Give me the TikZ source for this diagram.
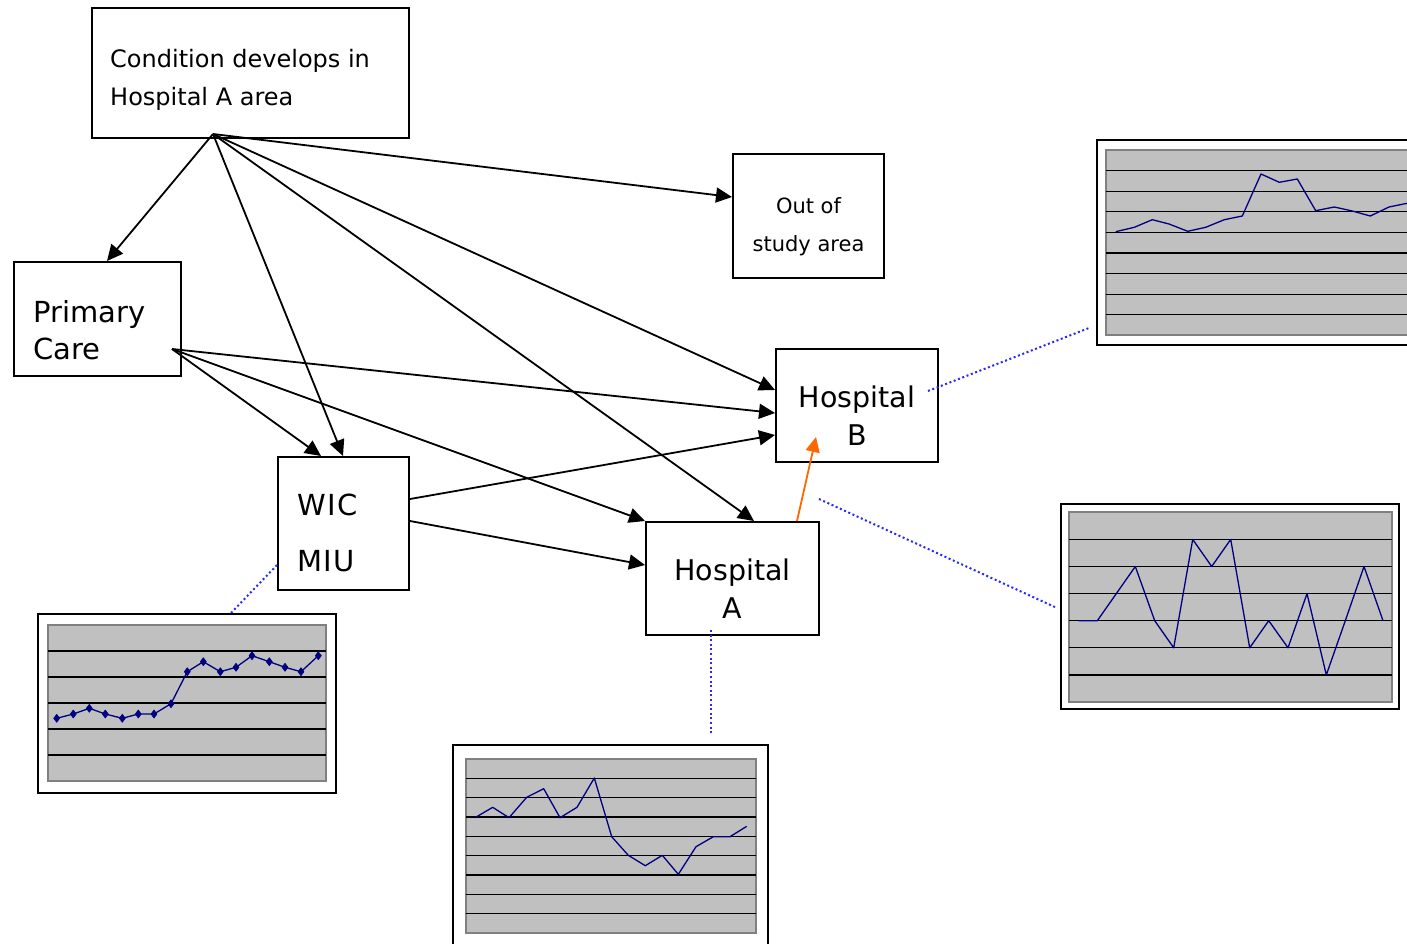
\documentclass[tikz,border=0pt]{standalone}
\usepackage{fontspec}
\setmainfont{DejaVu Sans}
\usetikzlibrary{arrows.meta,calc,plotmarks}
\definecolor{plotgray}{RGB}{192,192,192}
\definecolor{plotedge}{RGB}{128,128,128}
\definecolor{navy}{RGB}{0,0,128}
\definecolor{flow}{RGB}{255,102,0}
\definecolor{leader}{RGB}{40,40,255}

\begin{document}
\begin{tikzpicture}[x=1pt,y=-1pt,
  box/.style={draw=black,line width=2pt,rectangle,inner sep=0pt},
  txt/.style={inner sep=0pt,align=#1},
  arr/.style={-{Triangle[length=16pt,width=15pt]},line width=1.8pt,black},
  transfer/.style={-{Triangle[length=15pt,width=14pt]},line width=1.8pt,flow},
  lead/.style={leader,line width=2pt,dash pattern=on 2pt off 2.6pt},
  frame/.style={draw=black,line width=2pt,fill=white},
  plotarea/.style={draw=plotedge,line width=2pt,fill=plotgray},
  gridline/.style={black,line width=1.2pt},
  series/.style={navy,line width=1.3pt,line join=round}]
\clip (0,0) rectangle (1407,944);

% ---------- boxes ----------
\node[box,minimum width=317pt,minimum height=130pt] (cond) at (250.5,73) {};
\node[box,minimum width=151pt,minimum height=124pt] (out) at (808.5,216) {};
\node[box,minimum width=167pt,minimum height=114pt] (pc) at (97.5,319) {};
\node[box,minimum width=162pt,minimum height=113pt] (hb) at (857,405.5) {};
\node[box,minimum width=131pt,minimum height=133pt] (wic) at (343.5,523.5) {};
\node[box,minimum width=173pt,minimum height=113pt] (ha) at (732.5,578.5) {};

% ---------- labels ----------
\node[txt=left,anchor=west,font=\fontsize{24}{38}\selectfont] (condtxt) at (110,80)
  {Condition develops in\\Hospital A area};
\node[txt=center,font=\fontsize{21}{38}\selectfont] (outtxt) at (808.5,227) {Out of\\study area};
\node[txt=left,anchor=west,font=\fontsize{29}{37}\selectfont] (pctxt) at (33,330) {Primary\\Care};
\node[txt=center,font=\fontsize{28.5}{38}\selectfont] (hbtxt) at (857,416) {Hospital\\B};
\node[txt=left,anchor=west,font=\fontsize{29}{56}\selectfont] (wictxt) at (297,533)
  {\addfontfeature{LetterSpace=5}WIC\\\addfontfeature{LetterSpace=5}MIU};
\node[txt=center,font=\fontsize{28.5}{38}\selectfont] (hatxt) at (732.5,589) {Hospital\\A};

% ---------- connector ends ----------
\coordinate (condsrc) at ([xshift=-37.5pt,yshift=5pt]cond.south);
\coordinate (pcsrc) at ([xshift=-10pt,yshift=-30pt]pc.east);
\coordinate (wicsrcB) at ([yshift=24.5pt]wic.east);
\coordinate (wicsrcA) at ([yshift=2.5pt]wic.east);
\coordinate (pcin) at ([xshift=9.5pt]pc.north);
\coordinate (wicinC) at ([xshift=-0.5pt]wic.north);
\coordinate (wicinP) at ([xshift=-22.5pt]wic.north);
\coordinate (hainC) at ([xshift=21.5pt]ha.north);
\coordinate (hainW) at ([yshift=13.5pt]ha.west);
\coordinate (hbinC) at ([yshift=15.5pt]hb.west);
\coordinate (hbinP) at ([yshift=-7.5pt]hb.west);
\coordinate (hbinW) at ([yshift=-29.5pt]hb.west);
\coordinate (outin) at ([yshift=19pt]out.west);
\coordinate (hasrc) at ([xshift=64.5pt]ha.north);
\coordinate (hbtip) at ([xshift=-41pt,yshift=26pt]hb.south);

% ---------- flows ----------
\draw[arr] (condsrc) -- (pcin);
\draw[arr] (condsrc) -- (wicinC);
\draw[arr] (condsrc) -- (hainC);
\draw[arr] (condsrc) -- (hbinC);
\draw[arr] (condsrc) -- (outin);
\draw[arr] (pcsrc) -- (wicinP);
\draw[arr] (pcsrc) -- (ha.north west);
\draw[arr] (pcsrc) -- (hbinP);
\draw[arr] (wicsrcB) -- (hbinW);
\draw[arr] (wicsrcA) -- (hainW);
\draw[transfer] (hasrc) -- (hbtip);

% ---------- leaders to the charts ----------
\coordinate (hblead) at ([xshift=-11pt,yshift=14.5pt]hb.east);
\coordinate (chartBend) at (1089,328);
\coordinate (halead) at ([xshift=-1pt,yshift=22pt]ha.north east);
\coordinate (chartRend) at (1057,608);
\coordinate (hadown) at ([xshift=-21.5pt,yshift=6pt]ha.south);
\coordinate (chartAend) at (711,734);
\coordinate (wiclead) at ([yshift=-41.5pt]wic.west);
\coordinate (chartWend) at (231,613);
\draw[lead] (hblead) -- (chartBend);
\draw[lead] (halead) -- (chartRend);
\draw[lead] (hadown) -- (chartAend);
\draw[lead] (wiclead) -- (chartWend);

% ---------- chart: Hospital B attendances ----------
\draw[frame] (1097,140) rectangle (1430,345);
\draw[plotarea] (1106,150) rectangle (1430,335);
\foreach \k in {1,...,8} \draw[gridline] (1106,150+20.6*\k) -- (1430,150+20.6*\k);
\draw[series] plot coordinates {(1115.7,231.7) (1134.3,227.3) (1152.3,219.7) (1169,224)
  (1187.7,231.3) (1205.7,227.3) (1224.3,219.7) (1242.3,216) (1261,174) (1279.3,182.3)
  (1297.3,179) (1315.7,210.7) (1334.3,207) (1352.3,211) (1370.3,216) (1389,207)
  (1407,203.3) (1425,200)};

% ---------- chart: shifted activity ----------
\draw[frame] (1061,504) rectangle (1399,709);
\draw[plotarea] (1069,512) rectangle (1392,702);
\foreach \k in {1,...,6} \draw[gridline] (1069,702-27.1*\k) -- (1392,702-27.1*\k);
\draw[series] plot coordinates {
  (1078.7,620.7) (1097.3,620.7) (1116.3,593.6) (1135.3,566.5) (1154.7,620.7)
  (1173.7,647.8) (1192.7,539.4) (1211.7,566.5) (1230.7,539.4) (1249.7,647.8)
  (1268.7,620.7) (1288,647.8) (1307,593.6) (1326.3,674.9) (1345.3,620.7)
  (1364,566.5) (1383,620.7)};

% ---------- chart: WIC / MIU ----------
\draw[frame] (38,614) rectangle (336,793);
\draw[plotarea] (48,625) rectangle (326,781);
\foreach \k in {1,...,5} \draw[gridline] (48,625+26*\k) -- (326,625+26*\k);
\draw[series,mark=diamond*,mark size=4pt,mark options={fill=navy,draw=navy,line width=0.6pt}]
  plot coordinates {(56.7,718.3) (73.3,714) (89.3,708.3) (105.3,714) (122.3,718.3)
  (138.3,714) (154,714) (171,703.7) (187.3,671.7) (203.3,661.7) (220.3,671.7)
  (236,667.3) (252,655.7) (269.3,661.7) (285,667.3) (301,671.7) (318.3,655.7)};

% ---------- chart: Hospital A attendances ----------
\draw[frame] (453,745) rectangle (768,960);
\draw[plotarea] (466,759) rectangle (756,933);
\foreach \k in {1,...,8} \draw[gridline] (466,759+19.33*\k) -- (756,759+19.33*\k);
\draw[series] plot coordinates {(475,817.7) (492.7,807.3) (509,817.7) (526.7,797.3)
  (543.7,788.7) (560,817.7) (577,807.3) (594.3,778) (611.7,836.7) (628.3,855.3)
  (645.3,865.7) (662.3,855.3) (678.3,874.3) (696,846.7) (713.3,836.7) (730,836.7)
  (746.7,826.3)};
\end{tikzpicture}
\end{document}
